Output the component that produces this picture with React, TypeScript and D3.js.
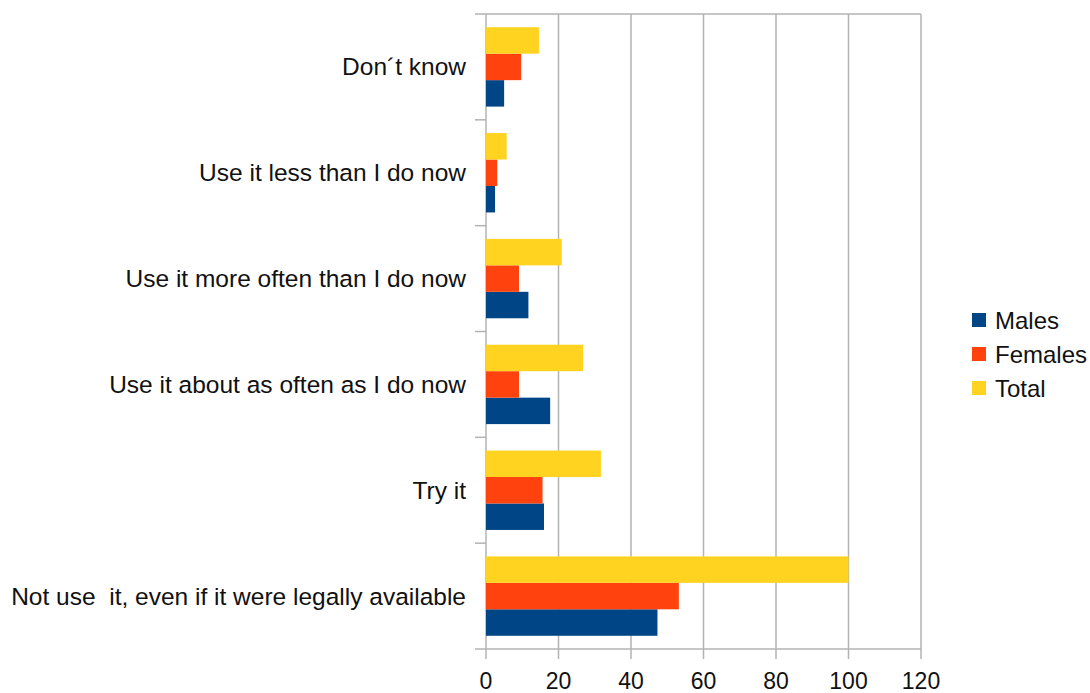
import React from "react";
import * as d3 from "d3";

const categories = [
  "Don\u00b4t know",
  "Use it less than I do now",
  "Use it more often than I do now",
  "Use it about as often as I do now",
  "Try it",
  "Not use  it, even if it were legally available",
];
const seriesNames = ["Males", "Females", "Total"];
const males = [5, 2.5, 11.7, 17.7, 16, 47.3];
const females = [9.7, 3.1, 9.1, 9.1, 15.6, 53.2];
const total = [14.6, 5.7, 20.9, 26.8, 31.7, 100];
const xTicks = [0, 20, 40, 60, 80, 100, 120];
const colors = ["#004586", "#ff420e", "#ffd320"];

const W = 1090;
const H = 693;
const left = 486;
const right = 921;
const top = 14;
const bottom = 649;
const font = "'Liberation Sans', Arial, sans-serif";

export default function App() {
  const x = d3.scaleLinear().domain([0, 120]).range([left, right]);
  const y = d3.scaleBand<string>().domain(categories).range([top, bottom]);
  const bw = y.bandwidth();
  // Total on top, Males at the bottom of each group
  const inner = d3
    .scaleBand<string>()
    .domain(["Total", "Females", "Males"])
    .range([bw * 0.125, bw * 0.875]);
  const values: Record<string, number[]> = { Males: males, Females: females, Total: total };

  return (
    <svg
      width={W}
      height={H}
      style={{ position: "absolute", left: 0, top: 0, background: "#fff" }}
      fontFamily={font}
    >
      {/* vertical gridlines */}
      {xTicks.map((t) => (
        <line key={"g" + t} x1={x(t)} x2={x(t)} y1={top} y2={bottom} stroke="#b3b3b3" strokeWidth={1.5} />
      ))}
      <line x1={left} x2={right} y1={top} y2={top} stroke="#b3b3b3" strokeWidth={1.5} />
      <line x1={left} x2={right} y1={bottom} y2={bottom} stroke="#b3b3b3" strokeWidth={1.5} />
      {/* category ticks */}
      {d3.range(categories.length + 1).map((i) => {
        const yy = top + i * bw;
        return <line key={"yt" + i} x1={left - 11} x2={left} y1={yy} y2={yy} stroke="#b3b3b3" strokeWidth={1.5} />;
      })}
      {/* value ticks */}
      {xTicks.map((t) => (
        <line key={"xt" + t} x1={x(t)} x2={x(t)} y1={bottom} y2={bottom + 10} stroke="#b3b3b3" strokeWidth={1.5} />
      ))}
      {/* bars */}
      {categories.map((c, i) => (
        <g key={c}>
          {seriesNames.map((s, si) => (
            <rect
              key={s}
              x={x(0)}
              y={(y(c) as number) + (inner(s) as number)}
              width={x(values[s][i]) - x(0)}
              height={inner.bandwidth()}
              fill={colors[si]}
            />
          ))}
        </g>
      ))}
      {/* category labels */}
      {categories.map((c) => (
        <text
          key={"l" + c}
          x={left - 20}
          y={(y(c) as number) + bw / 2}
          textAnchor="end"
          dominantBaseline="central"
          fontSize={24.5}
          fill="#111"
          style={{ whiteSpace: "pre" }}
        >
          {c}
        </text>
      ))}
      {/* value labels */}
      {xTicks.map((t) => (
        <text key={"xl" + t} x={x(t)} y={689} textAnchor="middle" fontSize={23} fill="#111">
          {t}
        </text>
      ))}
      {/* legend */}
      {seriesNames.map((s, i) => (
        <g key={"lg" + s} transform={`translate(972, ${320 + i * 34})`}>
          <rect x={0} y={-7} width={14} height={14} fill={colors[i]} />
          <text x={23} y={0} dominantBaseline="central" fontSize={24} fill="#111">
            {s}
          </text>
        </g>
      ))}
    </svg>
  );
}
